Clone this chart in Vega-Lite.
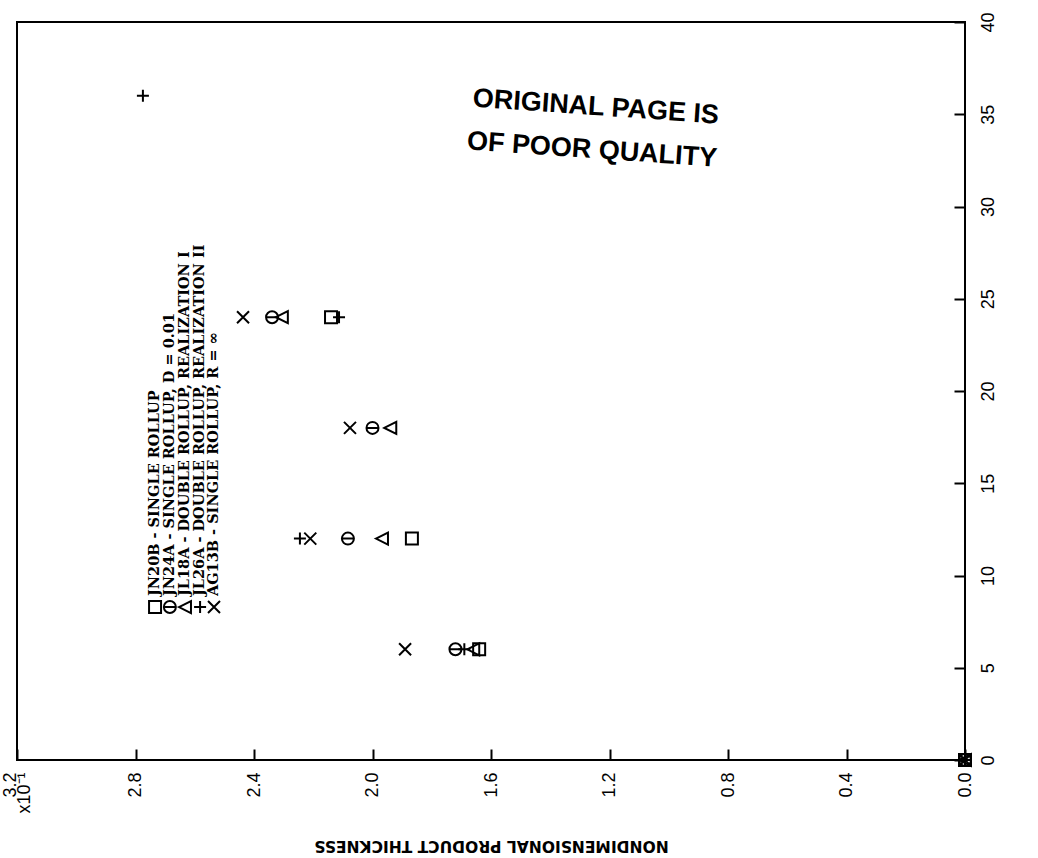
{
  "$schema": "https://vega.github.io/schema/vega-lite/v6.json",
  "width": 948,
  "height": 738,
  "autosize": "none",
  "padding": {"left": 17, "top": 22, "right": 73, "bottom": 98},
  "background": "white",
  "config": {
    "view": {"stroke": "black", "strokeWidth": 2},
    "axis": {"grid": false, "domain": false, "ticks": true, "tickOpacity": 1, "tickColor": "#000000", "tickWidth": 2, "labelColor": "black", "titleColor": "black", "zindex": 1}
  },
  "datasets": {
    "runs": [
      {"run": "JN20B", "time": 0, "thickness": 0},
      {"run": "JN24A", "time": 0, "thickness": 0},
      {"run": "JL18A", "time": 0, "thickness": 0},
      {"run": "JL26A", "time": 0, "thickness": 0},
      {"run": "AG13B", "time": 0, "thickness": 0},
      {"run": "AG13B", "time": 6, "thickness": 1.89},
      {"run": "JN24A", "time": 6, "thickness": 1.72},
      {"run": "JL26A", "time": 6, "thickness": 1.69},
      {"run": "JL18A", "time": 6, "thickness": 1.66},
      {"run": "JN20B", "time": 6, "thickness": 1.64},
      {"run": "JL26A", "time": 12, "thickness": 2.245},
      {"run": "AG13B", "time": 12, "thickness": 2.21},
      {"run": "JN24A", "time": 12, "thickness": 2.083},
      {"run": "JL18A", "time": 12, "thickness": 1.968},
      {"run": "JN20B", "time": 12, "thickness": 1.867},
      {"run": "AG13B", "time": 18, "thickness": 2.076},
      {"run": "JN24A", "time": 18, "thickness": 2.0},
      {"run": "JL18A", "time": 18, "thickness": 1.94},
      {"run": "AG13B", "time": 24, "thickness": 2.437},
      {"run": "JN24A", "time": 24, "thickness": 2.339},
      {"run": "JL18A", "time": 24, "thickness": 2.306},
      {"run": "JN20B", "time": 24, "thickness": 2.14},
      {"run": "JL26A", "time": 24, "thickness": 2.113},
      {"run": "JL26A", "time": 36, "thickness": 2.775}
    ],
    "key": [
      {"run": "JN20B", "time": 8.29, "thickness": 2.734, "label": "JN20B - SINGLE ROLLUP"},
      {"run": "JN24A", "time": 8.29, "thickness": 2.684, "label": "JN24A - SINGLE ROLLUP, D = 0.01"},
      {"run": "JL18A", "time": 8.29, "thickness": 2.633, "label": "JL18A - DOUBLE ROLLUP, REALIZATION I"},
      {"run": "JL26A", "time": 8.29, "thickness": 2.582, "label": "JL26A - DOUBLE ROLLUP, REALIZATION II"},
      {"run": "AG13B", "time": 8.29, "thickness": 2.535, "label": "AG13B - SINGLE ROLLUP, R = ∞"}
    ],
    "stamp": [
      {"time": 35.39, "thickness": 1.246, "label": "ORIGINAL PAGE IS"},
      {"time": 33.06, "thickness": 1.259, "label": "OF POOR QUALITY"}
    ]
  },
  "encoding": {
    "x": {
      "field": "thickness",
      "type": "quantitative",
      "scale": {"domain": [0, 3.2], "reverse": true, "nice": false, "zero": false},
      "axis": {
        "orient": "bottom",
        "offset": -11,
        "values": [0, 0.4, 0.8, 1.2, 1.6, 2.0, 2.4, 2.8, 3.2],
        "labelExpr": "datum.value == 3.2 ? ['3.2', 'x10⁻¹'] : format(datum.value, '.1f')",
        "labelOffset": {"condition": {"test": "datum.value == 3.2", "value": -7}, "value": 0},
        "labelAngle": 270,
        "labelAlign": "right",
        "labelBaseline": "middle",
        "labelLineHeight": 14,
        "labelFont": "Liberation Sans",
        "labelFontSize": 18,
        "labelFlush": false,
        "labelOverlap": false,
        "ticks": true,
        "tickSize": 11,
        "labelPadding": 12,
        "title": "NONDIMENSIONAL PRODUCT THICKNESS",
        "titleAngle": 180,
        "titleBaseline": "bottom",
        "titleFont": "DejaVu Sans",
        "titleFontSize": 15.5,
        "titleFontWeight": "bold",
        "titlePadding": 24
      }
    },
    "y": {
      "field": "time",
      "type": "quantitative",
      "scale": {"domain": [0, 40], "nice": false, "zero": false},
      "axis": {
        "orient": "right",
        "offset": -11,
        "values": [0, 5, 10, 15, 20, 25, 30, 35, 40],
        "labelAngle": 270,
        "labelAlign": "center",
        "labelBaseline": "middle",
        "labelFont": "Liberation Sans",
        "labelFontSize": 18,
        "labelFlush": false,
        "labelOverlap": false,
        "ticks": true,
        "tickSize": 11,
        "labelPadding": 23,
        "title": null
      }
    }
  },
  "layer": [
    {
      "data": {"name": "runs"},
      "mark": {"type": "point", "filled": false, "color": "black", "strokeWidth": 2, "size": 144, "opacity": 1},
      "encoding": {
        "shape": {
          "field": "run",
          "type": "nominal",
          "scale": {
            "domain": ["JN20B", "JN24A", "JL18A", "JL26A", "AG13B"],
            "range": [
              "M-1,-1H1V1H-1Z",
              "M-1,0A1,1 0 1,0 1,0A1,1 0 1,0 -1,0M-1,0H1",
              "M-1,0L1,-1L1,1Z",
              "M-1,0H1M0,-1V1",
              "M-1,-1L1,1M-1,1L1,-1"
            ]
          },
          "legend": null
        }
      }
    },
    {
      "data": {"name": "key"},
      "mark": {"type": "point", "filled": false, "color": "black", "strokeWidth": 2, "size": 144, "opacity": 1},
      "encoding": {
        "shape": {"field": "run", "type": "nominal", "legend": null}
      }
    },
    {
      "data": {"name": "key"},
      "mark": {"type": "text", "angle": 270, "align": "left", "baseline": "middle", "dx": 11, "font": "DejaVu Serif", "fontWeight": "bold", "fontSize": 14.5, "color": "black"},
      "encoding": {"text": {"field": "label"}}
    },
    {
      "data": {"name": "stamp"},
      "mark": {"type": "text", "angle": 4, "align": "center", "baseline": "middle", "font": "Liberation Sans", "fontWeight": "bold", "fontSize": 27, "color": "black"},
      "encoding": {"text": {"field": "label"}}
    }
  ]
}
